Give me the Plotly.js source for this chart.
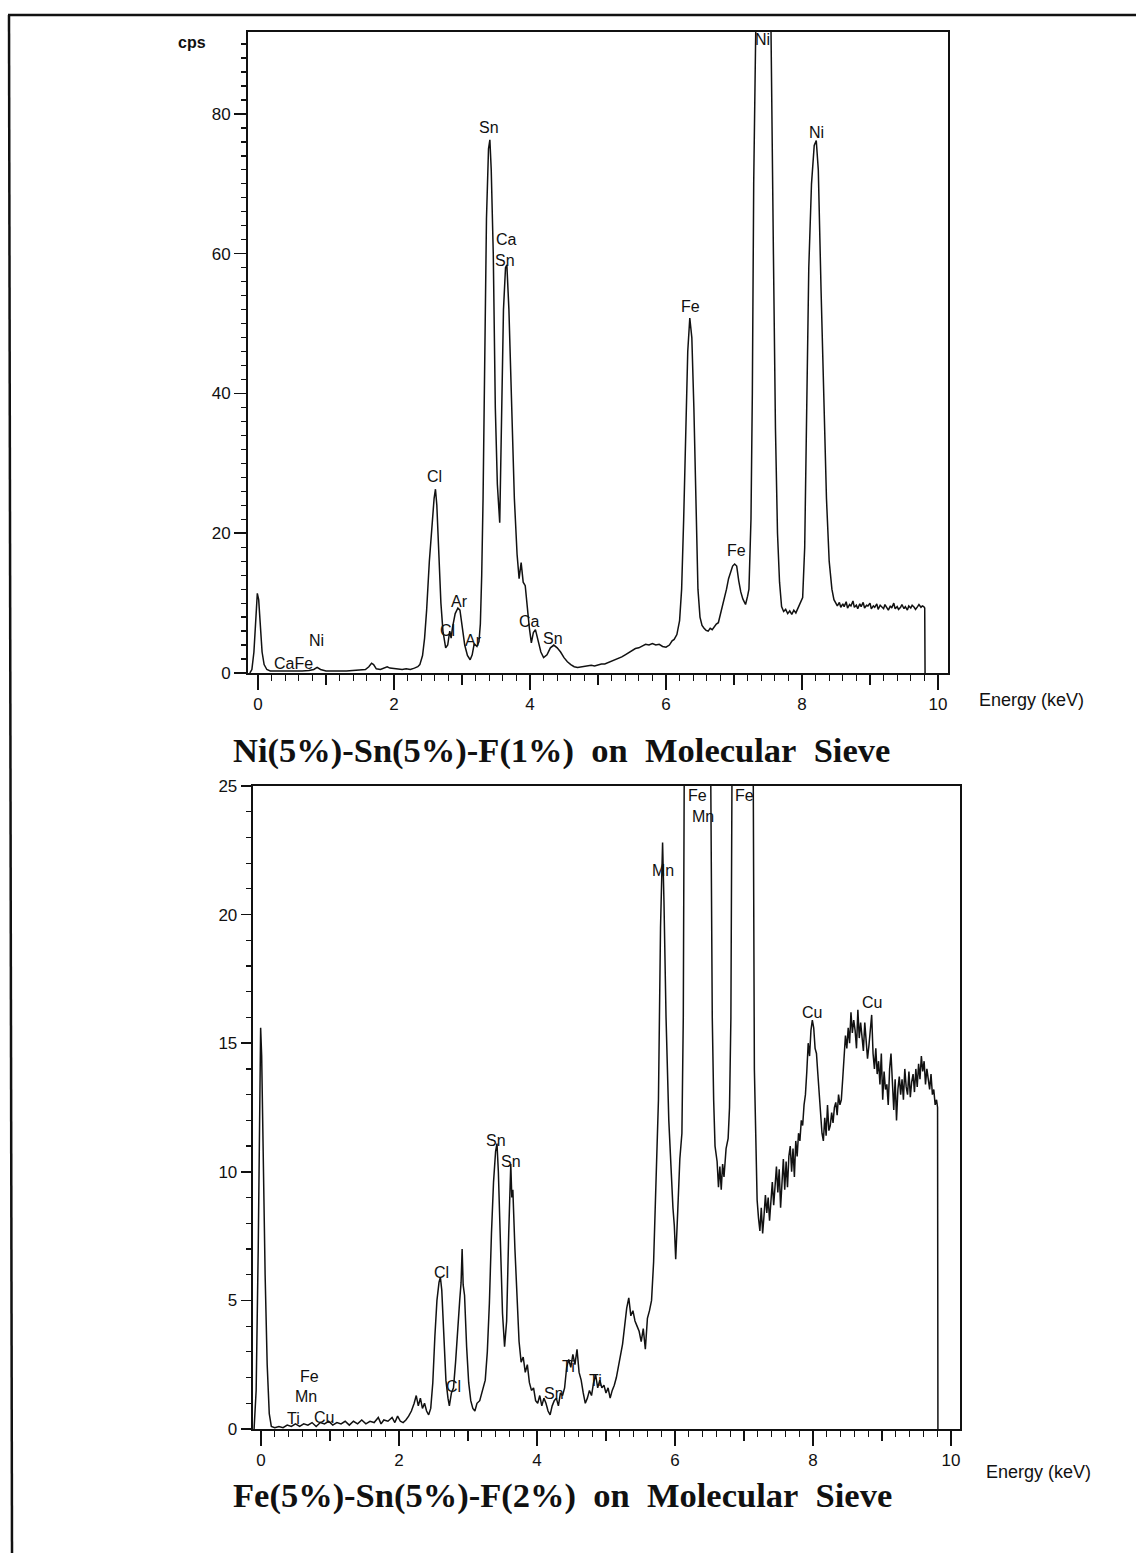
<!DOCTYPE html>
<html>
<head>
<meta charset="utf-8">
<script src="https://cdn.plot.ly/plotly-3.0.1.min.js"></script>
<style>html,body{margin:0;padding:0;background:#fff;}#chart{width:1136px;height:1553px;}</style>
</head>
<body>
<div id="chart"></div>
<script>
// ---------------- DATA ----------------
// Top spectrum: Ni(5%)-Sn(5%)-F(1%) on Molecular Sieve
const topEnergy = [
-0.12,-0.09,-0.06,-0.03,-0.01,0.01,0.03,0.06,0.09,0.13,0.18,0.25,0.35,0.45,0.55,0.65,0.75,0.82,0.87,0.92,
1.0,1.1,1.2,1.3,1.4,1.5,1.58,1.63,1.67,1.70,1.74,1.80,1.86,1.90,1.94,2.0,2.06,2.12,2.18,2.24,2.30,2.35,
2.38,2.42,2.45,2.48,2.52,2.56,2.59,2.61,2.63,2.66,2.69,2.72,2.76,2.79,2.82,2.84,2.86,2.90,2.94,2.97,3.00,
3.04,3.08,3.12,3.15,3.18,3.22,3.25,3.27,3.29,3.31,3.33,3.36,3.39,3.41,3.43,3.46,3.49,3.52,3.555,3.58,
3.61,3.64,3.66,3.69,3.73,3.77,3.81,3.84,3.87,3.90,3.93,3.96,3.99,4.02,4.05,4.08,4.12,4.16,4.20,4.25,
4.30,4.35,4.40,4.45,4.50,4.55,4.60,4.65,4.70,4.75,4.80,4.85,4.90,4.95,5.00,5.05,5.10,5.15,5.20,5.25,
5.30,5.35,5.40,5.45,5.50,5.55,5.60,5.65,5.70,5.75,5.80,5.85,5.90,5.95,6.00,6.05,6.09,6.12,6.16,6.20,
6.23,6.26,6.29,6.32,6.35,6.38,6.41,6.44,6.47,6.50,6.53,6.56,6.59,6.62,6.65,6.68,6.71,6.74,6.77,6.80,
6.83,6.86,6.89,6.92,6.95,6.98,7.01,7.04,7.07,7.10,7.13,7.17,7.20,7.22,7.25,7.27,7.29,7.31,7.36,7.42,
7.48,7.53,7.58,7.61,7.64,7.67,7.70,7.73,7.76,7.79,7.82,7.85,7.88,7.91,7.94,7.97,8.01,8.04,8.07,8.10,
8.14,8.18,8.21,8.24,8.28,8.32,8.36,8.40,8.44,8.47,8.50,8.52,8.55,8.57,8.60,8.62,8.65,8.67,8.70,8.72,
8.75,8.77,8.80,8.82,8.85,8.87,8.90,8.92,8.95,8.97,9.00,9.02,9.05,9.07,9.10,9.12,9.15,9.17,9.20,9.22,
9.25,9.27,9.30,9.32,9.35,9.37,9.40,9.42,9.45,9.47,9.50,9.52,9.55,9.57,9.60,9.62,9.65,9.67,9.70,9.72,
9.75,9.77,9.79,9.805,9.81
];
const topCps = [
0,0.5,3,8,11.4,10.5,7,3,1.2,0.5,0.3,0.3,0.2,0.3,0.25,0.3,0.35,0.5,0.8,0.5,
0.3,0.25,0.3,0.3,0.35,0.4,0.5,0.9,1.4,1.2,0.6,0.5,0.7,0.9,0.7,0.6,0.5,0.5,0.6,0.5,0.7,0.9,
1.2,2.5,5,9,16,22,25,26.3,24,17,10,6,3.6,4.0,6.0,5.0,6.5,8.5,9.3,9.0,7.0,
4.0,2.5,1.9,2.6,4.2,3.8,4.5,7,14,25,45,65,75,76.3,72,60,38,27,21.5,38,
52,58,58.4,52,39,25,17,13.5,15.8,13,12.5,9,6.5,4.3,5.8,6.2,4.5,3.0,2.2,2.6,
3.6,4.0,3.6,3.0,2.2,1.6,1.2,0.9,0.8,0.9,0.9,1.0,1.1,1.0,1.2,1.3,1.3,1.5,1.6,1.9,
2.1,2.3,2.6,2.9,3.1,3.5,3.6,3.9,4.1,4.0,4.2,4.0,4.1,3.8,3.7,4.0,4.6,4.8,5.5,7.5,
12,22,35,46,50.8,48,38,24,12,8,6.8,6.4,6.1,6.0,6.4,6.2,6.6,7.0,7.2,8.3,
9.5,10.8,12,13.5,14.6,15.3,15.6,15.3,13.2,11.6,10.6,9.8,11,12,22,40,70,100,150,165,
150,100,60,35,20,13,9.5,8.8,9.1,8.5,8.9,8.4,9.0,8.6,9.2,9.8,10.8,18,40,58,
70,75.5,76.2,72,55,39,25,16,12,10.5,10.0,9.6,10.1,9.4,9.9,9.5,10.2,9.3,9.8,9.6,
10.3,9.4,9.7,9.2,9.9,9.5,10.1,9.3,9.7,9.6,10.0,9.2,9.6,9.4,9.9,9.1,9.7,9.5,9.2,9.8,
9.4,9.0,9.6,9.3,10.0,9.2,9.5,9.1,9.4,9.8,9.2,9.5,9.0,9.6,9.3,9.7,9.4,9.1,9.5,9.8,
9.4,9.6,9.5,9.3,0
];

// Bottom spectrum: Fe(5%)-Sn(5%)-F(2%) on Molecular Sieve
const botEnergy = [
-0.10,-0.07,-0.04,-0.02,-0.005,0.01,0.03,0.06,0.09,0.12,0.15,0.20,0.26,0.32,0.38,0.44,0.50,0.56,0.62,0.68,
0.74,0.80,0.86,0.92,0.98,1.04,1.10,1.16,1.22,1.28,1.34,1.40,1.46,1.52,1.58,1.64,1.70,1.74,1.78,1.84,
1.90,1.94,1.98,2.02,2.06,2.10,2.14,2.18,2.22,2.25,2.28,2.31,2.34,2.37,2.40,2.43,2.46,2.49,2.52,2.55,
2.58,2.60,2.62,2.65,2.68,2.71,2.73,2.76,2.79,2.82,2.85,2.88,2.90,2.915,2.93,2.95,2.98,3.01,3.04,3.07,
3.10,3.13,3.17,3.21,3.25,3.28,3.31,3.34,3.37,3.40,3.42,3.44,3.47,3.50,3.53,3.56,3.59,3.62,3.635,3.65,
3.68,3.71,3.74,3.77,3.80,3.83,3.86,3.89,3.92,3.95,3.98,4.01,4.04,4.07,4.10,4.13,4.16,4.19,4.22,4.25,
4.28,4.31,4.34,4.37,4.40,4.43,4.46,4.49,4.52,4.55,4.58,4.61,4.64,4.67,4.70,4.73,4.76,4.79,4.82,4.85,
4.88,4.91,4.94,4.97,5.00,5.03,5.06,5.09,5.12,5.15,5.18,5.21,5.24,5.27,5.30,5.33,5.36,5.39,5.42,5.45,
5.48,5.51,5.54,5.57,5.60,5.63,5.66,5.69,5.72,5.76,5.79,5.82,5.84,5.87,5.91,5.94,5.97,5.99,6.01,6.04,
6.07,6.10,6.12,6.14,6.18,6.32,6.46,6.51,6.54,6.56,6.58,6.61,6.63,6.65,6.67,6.69,6.71,6.74,6.77,6.79,
6.81,6.83,6.87,6.98,7.09,7.13,7.15,7.17,7.19,7.21,7.23,7.25,7.27,7.29,7.31,7.33,7.35,7.37,7.39,7.41,
7.43,7.45,7.47,7.49,7.51,7.53,7.55,7.57,7.59,7.61,7.63,7.65,7.67,7.69,7.71,7.73,7.75,7.77,7.79,7.81,
7.83,7.85,7.87,7.89,7.91,7.93,7.95,7.97,7.99,8.01,8.03,8.05,8.07,8.09,8.11,8.13,8.15,8.17,8.19,8.21,
8.23,8.25,8.27,8.29,8.31,8.33,8.35,8.37,8.39,8.41,8.43,8.45,8.47,8.49,8.51,8.53,8.55,8.57,8.59,8.61,
8.63,8.65,8.67,8.69,8.71,8.73,8.75,8.77,8.79,8.81,8.83,8.85,8.87,8.89,8.91,8.93,8.95,8.97,8.99,9.01,
9.03,9.05,9.07,9.09,9.11,9.13,9.15,9.17,9.19,9.21,9.23,9.25,9.27,9.29,9.31,9.33,9.35,9.37,9.39,9.41,
9.43,9.45,9.47,9.49,9.51,9.53,9.55,9.57,9.59,9.61,9.63,9.65,9.67,9.69,9.71,9.73,9.75,9.77,9.79,9.805,
9.81
];
const botCps = [
0,1.5,7,13,15.6,14.5,11,6,2.5,0.6,0.1,0.05,0.1,0.05,0.15,0.1,0.2,0.1,0.2,0.15,
0.25,0.1,0.25,0.2,0.3,0.15,0.25,0.2,0.3,0.15,0.3,0.2,0.35,0.2,0.3,0.25,0.45,0.2,0.35,0.3,
0.45,0.25,0.5,0.3,0.25,0.35,0.5,0.7,1.0,1.3,0.9,1.2,0.8,1.0,0.7,0.55,0.8,1.8,3.6,5.0,
5.7,5.9,5.4,3.6,1.9,1.2,0.9,1.4,1.6,2.6,4.0,5.0,5.7,7.0,5.6,5.2,3.2,1.8,1.1,0.8,
0.7,1.0,1.1,1.5,1.9,3.0,4.9,7.6,9.6,10.8,11.1,10.0,7.0,4.5,3.2,4.2,7.6,10.3,9.0,9.3,
7.0,4.9,3.4,2.6,2.8,2.2,2.5,1.8,1.5,1.6,1.1,1.0,1.3,0.9,1.2,1.0,0.7,0.55,0.9,1.1,
1.2,0.9,1.4,1.3,1.6,2.4,2.7,2.4,2.9,2.5,3.1,2.2,1.9,1.4,1.0,1.2,1.5,1.3,1.8,2.1,
1.6,1.9,1.6,1.7,1.4,1.6,1.2,1.5,1.7,2.0,2.4,2.9,3.3,4.0,4.7,5.1,4.4,4.6,4.2,4.0,
3.8,3.4,3.9,3.1,4.3,4.6,5.0,6.5,8.9,12.8,19.5,22.8,20.5,16.0,12.0,10.2,8.6,7.9,6.6,8.5,
10.5,11.5,16,30,50,75,50,28,16,12.8,11.0,10.4,9.4,10.2,9.3,10.3,9.8,10.9,11.3,12.5,
16,28,45,55,45,28,14,10.5,8.9,8.2,7.7,8.6,7.6,8.3,9.1,8.4,9.0,8.1,8.9,9.6,
8.7,9.7,10.2,9.2,10.1,8.6,9.6,10.5,9.3,10.4,9.4,10.6,11.0,10.0,10.9,9.8,11.2,10.6,11.5,11.2,
12.0,11.8,12.6,13.0,13.9,15.0,14.5,15.5,15.9,15.6,14.8,14.6,13.8,13.1,12.3,11.5,11.2,12.1,11.4,12.6,
11.6,11.8,12.3,11.9,12.5,12.7,12.2,13.0,12.6,12.8,13.6,14.5,15.3,14.8,15.6,15.0,16.2,15.4,15.9,15.5,
14.8,16.3,15.2,15.8,15.3,14.7,15.8,15.0,14.4,14.9,15.4,16.1,14.6,14.0,14.8,13.8,14.3,13.4,14.6,12.8,
13.9,13.2,13.4,12.6,14.0,14.6,13.5,12.4,13.6,12.0,13.2,13.7,13.0,13.6,12.8,14.0,13.3,13.0,13.9,12.9,
13.5,13.8,13.1,14.0,13.3,14.2,13.6,14.5,13.9,14.3,13.4,14.0,13.6,13.2,13.8,13.0,13.2,12.6,12.8,12.5,
0
];

// Peak labels
const topLabels = ['Sn','Ca','Sn','Fe','Ni','Ni','Cl','Fe','Ar','Cl','Ar','Ca','Sn','Ni','CaFe'];
const topLabelE = [3.39,3.65,3.63,6.36,7.42,8.21,2.60,7.04,2.96,2.78,3.17,4.00,4.34,0.86,0.52];
const topLabelCps = [78.0,62.0,59.0,52.5,90.6,77.3,28.1,17.6,10.2,6.15,4.7,7.3,4.9,4.6,1.4];

const botLabels = ['Fe','Mn','Fe','Mn','Cu','Cu','Sn','Sn','Cl','Cl','Fe','Mn','Ti','Cu','Sn','Ti','Ti'];
const botLabelE = [6.33,6.40,7.00,5.83,7.98,8.85,3.41,3.63,2.61,2.79,0.71,0.65,0.47,0.92,4.24,4.46,4.85];
const botLabelCps = [24.65,23.8,24.65,21.7,16.2,16.6,11.2,10.4,6.1,1.64,2.06,1.26,0.42,0.43,1.39,2.42,1.9];

const xMajor = [0,2,4,6,8,10];
const xMid = [1,3,5,7,9];
const topTitle = 'Ni(5%)-Sn(5%)-F(1%)\u00a0\u00a0on\u00a0\u00a0Molecular\u00a0\u00a0Sieve';
const botTitle = 'Fe(5%)-Sn(5%)-F(2%)\u00a0\u00a0on\u00a0\u00a0Molecular\u00a0\u00a0Sieve';

// ---------------- LAYOUT ----------------
const W = 1136, H = 1553;
const fx = p => p / W;
const fy = p => 1 - p / H;
const INK = '#111111';
const sans = 'Liberation Sans, Arial, sans-serif';
const serif = 'Liberation Serif, Times New Roman, serif';

const lineStyle = {color: INK, width: 1.5};
const traces = [
  {x: topEnergy, y: topCps, xaxis: 'x', yaxis: 'y', mode: 'lines', line: lineStyle, hoverinfo: 'skip'},
  {x: botEnergy, y: botCps, xaxis: 'x2', yaxis: 'y2', mode: 'lines', line: lineStyle, hoverinfo: 'skip'},
  {x: [null], y: [null], xaxis: 'x3', yaxis: 'y', mode: 'lines', hoverinfo: 'skip'},
  {x: [null], y: [null], xaxis: 'x4', yaxis: 'y2', mode: 'lines', hoverinfo: 'skip'}
];

const tickFont = {family: sans, size: 17, color: INK};
function xAx(domain, range, anchor) {
  return {
    domain: domain, range: range, anchor: anchor,
    showline: true, linecolor: INK, linewidth: 2, mirror: true,
    showgrid: false, zeroline: false,
    tickmode: 'array', tickvals: xMajor, ticktext: xMajor.map(String),
    ticks: 'outside', ticklen: 15, tickwidth: 1.5, tickcolor: INK,
    tickfont: tickFont,
    minor: {tickmode: 'linear', tick0: 0, dtick: 0.2, ticks: 'outside', ticklen: 6, tickwidth: 1.2, tickcolor: INK, showgrid: false}
  };
}
function xMidAx(over, range, anchor) {
  return {
    overlaying: over, anchor: anchor, range: range,
    showline: false, showgrid: false, zeroline: false,
    tickmode: 'array', tickvals: xMid, showticklabels: false,
    ticks: 'outside', ticklen: 11, tickwidth: 1.3, tickcolor: INK
  };
}
function yAx(domain, range, anchor, dtick, minorDtick, len) {
  return {
    domain: domain, range: range, anchor: anchor,
    showline: true, linecolor: INK, linewidth: 2, mirror: true,
    showgrid: false, zeroline: false,
    tickmode: 'linear', tick0: 0, dtick: dtick,
    ticks: 'outside', ticklen: len, tickwidth: 1.5, tickcolor: INK,
    tickfont: tickFont,
    minor: {tickmode: 'linear', tick0: 0, dtick: minorDtick, ticks: 'outside', ticklen: 5, tickwidth: 1.2, tickcolor: INK, showgrid: false}
  };
}

const topXRange = [-0.147, 10.14];
const botXRange = [-0.12, 10.13];

const annotations = [];
const labFont = {family: sans, size: 16, color: INK};
topLabels.forEach((t, i) => annotations.push({
  text: t, x: topLabelE[i], y: topLabelCps[i], xref: 'x', yref: 'y',
  showarrow: false, font: labFont, xanchor: 'center', yanchor: 'middle'
}));
botLabels.forEach((t, i) => annotations.push({
  text: t, x: botLabelE[i], y: botLabelCps[i], xref: 'x2', yref: 'y2',
  showarrow: false, font: labFont, xanchor: 'center', yanchor: 'middle'
}));
annotations.push(
  {text: 'cps', x: fx(192), y: fy(42), xref: 'paper', yref: 'paper', showarrow: false,
   font: {family: sans, size: 16, color: INK, weight: 'bold'}, xanchor: 'center', yanchor: 'middle'},
  {text: 'Energy (keV)', x: fx(1031), y: fy(700), xref: 'paper', yref: 'paper', showarrow: false,
   font: {family: sans, size: 18, color: INK}, xanchor: 'center', yanchor: 'middle'},
  {text: 'Energy (keV)', x: fx(1038), y: fy(1472), xref: 'paper', yref: 'paper', showarrow: false,
   font: {family: sans, size: 18, color: INK}, xanchor: 'center', yanchor: 'middle'},
  {text: topTitle, x: fx(561), y: fy(751), xref: 'paper', yref: 'paper', showarrow: false,
   font: {family: serif, size: 34.5, color: INK, weight: 'bold'}, xanchor: 'center', yanchor: 'middle'},
  {text: botTitle, x: fx(562), y: fy(1495), xref: 'paper', yref: 'paper', showarrow: false,
   font: {family: serif, size: 34.5, color: INK, weight: 'bold'}, xanchor: 'center', yanchor: 'middle'}
);

const layout = {
  width: W, height: H,
  margin: {l: 0, r: 0, t: 0, b: 0},
  paper_bgcolor: '#ffffff', plot_bgcolor: '#ffffff',
  showlegend: false,
  xaxis: xAx([fx(248), fx(947.5)], topXRange, 'y'),
  yaxis: yAx([fy(673), fy(32)], [0, 91.73], 'x', 20, 2, 12),
  xaxis3: xMidAx('x', topXRange, 'y'),
  xaxis2: xAx([fx(252.7), fx(960)], botXRange, 'y2'),
  yaxis2: yAx([fy(1429), fy(786)], [0, 25], 'x2', 5, 1, 10),
  xaxis4: xMidAx('x2', botXRange, 'y2'),
  annotations: annotations,
  shapes: [
    {type: 'line', xref: 'paper', yref: 'paper', x0: fx(8), x1: 1, y0: fy(15), y1: fy(15), line: {color: INK, width: 2.5}},
    {type: 'line', xref: 'paper', yref: 'paper', x0: fx(9), x1: fx(12), y0: fy(15), y1: 0, line: {color: INK, width: 2.5}}
  ]
};

Plotly.newPlot('chart', traces, layout, {staticPlot: true, displayModeBar: false});
</script>
</body>
</html>
